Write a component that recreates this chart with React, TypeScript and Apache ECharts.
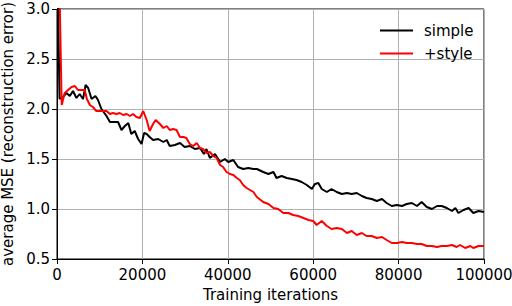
import React, { useEffect, useRef } from "react";
import * as echarts from "echarts";

const simpleIters = [0, 600, 1400, 2200, 3000, 3750, 4550, 5300, 6100, 6700, 7300, 8100, 9000, 9600, 10400, 11600, 12400, 13500, 14300, 15100, 15900, 16700, 17400, 18200, 19000, 19800, 20400, 21000, 21700, 22500, 23700, 24900, 25700, 26400, 27600, 28800, 29900, 31100, 32300, 33500, 34400, 35000, 35800, 37000, 38200, 39300, 40100, 41300, 42400, 43600, 44800, 46000, 46800, 48300, 49500, 50700, 51400, 52600, 53800, 55000, 56100, 57300, 58500, 59700, 60400, 61200, 62000, 63200, 64300, 65500, 66700, 67900, 69000, 70200, 71400, 72500, 73700, 74900, 76100, 77200, 78400, 79600, 80800, 81900, 83100, 84300, 85400, 86600, 87800, 89000, 90100, 91300, 92500, 93300, 94000, 95200, 96400, 97500, 98700, 100000];
const simpleVals = [3.6, 2.1, 2.12, 2.16, 2.13, 2.18, 2.11, 2.15, 2.1, 2.24, 2.21, 2.1, 2.13, 2.09, 2.0, 1.93, 1.87, 1.87, 1.87, 1.79, 1.83, 1.86, 1.75, 1.78, 1.7, 1.65, 1.76, 1.75, 1.72, 1.69, 1.7, 1.67, 1.69, 1.63, 1.64, 1.66, 1.62, 1.63, 1.6, 1.61, 1.55, 1.6, 1.51, 1.55, 1.47, 1.5, 1.47, 1.49, 1.42, 1.4, 1.41, 1.4, 1.4, 1.37, 1.35, 1.37, 1.31, 1.33, 1.31, 1.3, 1.29, 1.27, 1.24, 1.2, 1.25, 1.26, 1.2, 1.17, 1.2, 1.17, 1.15, 1.16, 1.15, 1.16, 1.13, 1.11, 1.1, 1.08, 1.1, 1.06, 1.03, 1.04, 1.03, 1.05, 1.06, 1.03, 1.07, 1.02, 1.0, 1.03, 1.03, 1.01, 0.98, 1.01, 0.96, 0.99, 1.01, 0.96, 0.98, 0.97];

const styleIters = [0, 1100, 1800, 2600, 3400, 4200, 4900, 5700, 6500, 7000, 7700, 8400, 9200, 10000, 10800, 11600, 12400, 13100, 13900, 14700, 15500, 16300, 17100, 17800, 18600, 19400, 20200, 21000, 21700, 22500, 23100, 24100, 24900, 25700, 26400, 27200, 28000, 28800, 29600, 30300, 31100, 31900, 32700, 33500, 34200, 35000, 35800, 36600, 37400, 38200, 38900, 39700, 40500, 41300, 42100, 42800, 43600, 44400, 45200, 46000, 46800, 48300, 49500, 50700, 51800, 53000, 54200, 55300, 56500, 57700, 58900, 60000, 60800, 62000, 63200, 64300, 65500, 66700, 67900, 69000, 70200, 71400, 72500, 73700, 74900, 76100, 77200, 78400, 79600, 80800, 81900, 83100, 84300, 85400, 86600, 87800, 89000, 90100, 91300, 92500, 93600, 94400, 95600, 96800, 97500, 98700, 100000];
const styleVals = [4.5, 2.04, 2.16, 2.19, 2.22, 2.23, 2.19, 2.19, 2.19, 2.1, 2.04, 2.02, 1.98, 1.98, 1.98, 1.98, 1.95, 1.96, 1.95, 1.96, 1.94, 1.95, 1.93, 1.95, 1.92, 1.91, 1.98, 1.89, 1.78, 1.85, 1.89, 1.85, 1.81, 1.83, 1.79, 1.8, 1.79, 1.72, 1.72, 1.71, 1.65, 1.63, 1.66, 1.61, 1.6, 1.56, 1.57, 1.53, 1.51, 1.44, 1.42, 1.37, 1.35, 1.34, 1.31, 1.29, 1.24, 1.21, 1.19, 1.17, 1.12, 1.07, 1.05, 1.01, 1.0, 0.96, 0.96, 0.94, 0.93, 0.91, 0.89, 0.88, 0.84, 0.88, 0.83, 0.8, 0.81, 0.8, 0.76, 0.78, 0.74, 0.76, 0.73, 0.73, 0.71, 0.72, 0.69, 0.66, 0.66, 0.67, 0.66, 0.66, 0.65, 0.65, 0.63, 0.63, 0.62, 0.63, 0.63, 0.64, 0.62, 0.64, 0.61, 0.63, 0.61, 0.63, 0.63];

const seriesNames = ["simple", "+style"];
const seriesColors = ["#000000", "#ff0000"];
const xAxisTitle = "Training iterations";
const yAxisTitle = "average MSE (reconstruction error)";

const FONT = "DejaVu Sans";

export default function App() {
  const ref = useRef<HTMLDivElement>(null);
  useEffect(() => {
    if (!ref.current) return;
    const chart = echarts.init(ref.current, undefined, { renderer: "svg" });
    const pairs = (xs: number[], ys: number[]) => xs.map((x, i) => [x, ys[i]]);
    chart.setOption({
      animation: false,
      backgroundColor: "#ffffff",
      grid: {
        left: 57,
        right: 28,
        top: 9,
        bottom: 47,
        containLabel: false,
        outerBoundsMode: "none",
        show: true,
        borderColor: "#000",
        borderWidth: 1,
        backgroundColor: "transparent",
      },
      legend: {
        orient: "vertical",
        left: 375,
        top: 18,
        icon: "rect",
        itemWidth: 33,
        itemHeight: 2,
        itemGap: 8,
        data: seriesNames,
        textStyle: {
          fontFamily: FONT,
          fontSize: 15,
          color: "#000",
          lineHeight: 15,
          padding: [0, 0, 0, 6],
        },
      },
      xAxis: {
        type: "value",
        min: 0,
        max: 100000,
        interval: 20000,
        name: xAxisTitle,
        nameLocation: "middle",
        nameGap: 28,
        nameTextStyle: { fontFamily: FONT, fontSize: 15, color: "#000" },
        axisLine: { show: true, onZero: false, lineStyle: { color: "#000", width: 1 } },
        axisTick: { show: true, length: 5, lineStyle: { color: "#000" } },
        axisLabel: {
          fontFamily: FONT,
          fontSize: 15,
          color: "#000",
          margin: 8,
          formatter: (v: number) => String(v),
        },
        splitLine: { show: true, lineStyle: { color: "#b0b0b0", width: 1 } },
      },
      yAxis: {
        type: "value",
        min: 0.5,
        max: 3.0,
        interval: 0.5,
        name: yAxisTitle,
        nameLocation: "middle",
        nameGap: 39,
        nameTextStyle: { fontFamily: FONT, fontSize: 15, color: "#000" },
        axisLine: { show: true, lineStyle: { color: "#000", width: 1 } },
        axisTick: { show: true, length: 5, lineStyle: { color: "#000" } },
        axisLabel: {
          fontFamily: FONT,
          fontSize: 15,
          color: "#000",
          margin: 7,
          formatter: (v: number) => v.toFixed(1),
        },
        splitLine: { show: true, lineStyle: { color: "#b0b0b0", width: 1 } },
      },
      series: [
        {
          name: seriesNames[0],
          type: "line",
          data: pairs(simpleIters, simpleVals),
          showSymbol: false,
          symbol: "none",
          clip: true,
          color: seriesColors[0],
          lineStyle: { color: seriesColors[0], width: 2 },
        },
        {
          name: seriesNames[1],
          type: "line",
          data: pairs(styleIters, styleVals),
          showSymbol: false,
          symbol: "none",
          clip: true,
          color: seriesColors[1],
          lineStyle: { color: seriesColors[1], width: 2 },
        },
      ],
    });
    return () => chart.dispose();
  }, []);
  return (
    <div
      ref={ref}
      style={{ position: "fixed", left: 0, top: 0, width: 512, height: 306 }}
    />
  );
}
